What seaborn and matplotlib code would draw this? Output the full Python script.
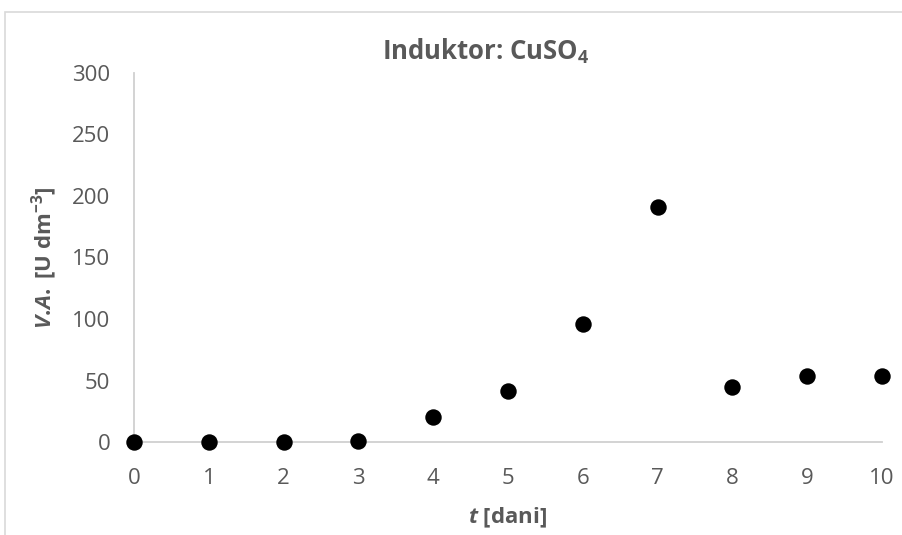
import pandas as pd
import matplotlib.pyplot as plt
import seaborn as sns
from matplotlib.patches import Rectangle

days = [0, 1, 2, 3, 4, 5, 6, 7, 8, 9, 10]
activity = [0, 0, 0, 0.5, 20, 41.5, 96, 191, 45, 54, 54]
y_ticks = [0, 50, 100, 150, 200, 250, 300]
x_ticks = [0, 1, 2, 3, 4, 5, 6, 7, 8, 9, 10]

df = pd.DataFrame({'t': days, 'VA': activity})

sns.set_style('white')
plt.rcParams['font.family'] = ['Open Sans', 'DejaVu Sans']
plt.rcParams['mathtext.fontset'] = 'custom'
plt.rcParams['mathtext.rm'] = 'Open Sans:bold'
plt.rcParams['mathtext.it'] = 'Open Sans:bold:italic'
plt.rcParams['mathtext.bf'] = 'Open Sans:bold'

gray = '#595959'
fig = plt.figure(figsize=(9.02, 5.35), dpi=100)
ax = fig.add_axes([0.1486, 0.1738, 0.8292, 0.6898])

sns.scatterplot(df, x='t', y='VA', ax=ax, color='black', s=140, edgecolor='black', linewidth=0, zorder=3, clip_on=False)

ax.set_xlim(0, 10)
ax.set_ylim(0, 300)
ax.set_xticks(x_ticks)
ax.set_yticks(y_ticks)
ax.tick_params(axis='both', length=0, labelsize=16, labelcolor=gray)
ax.tick_params(axis='x', pad=19)
ax.tick_params(axis='y', pad=17)

for side in ['top', 'right']:
    ax.spines[side].set_visible(False)
for side in ['left', 'bottom']:
    ax.spines[side].set_color('#d0d0d0')
    ax.spines[side].set_linewidth(1.3)

# title sits a bit left of the plot centre, as in the spreadsheet chart
ax.set_title('Induktor: CuSO$_4$', fontsize=18.5, fontweight='bold', color=gray, pad=10, x=0.47)
ax.set_xlabel(r'$t$ [dani]', fontsize=16, fontweight='bold', color=gray, labelpad=12)
ax.set_ylabel(r'$\mathit{V.\!A.}$ [U dm$^{-3}$]', fontsize=16, fontweight='bold', color=gray, labelpad=9)

# light chart-area border like the spreadsheet frame
fig.patches.append(Rectangle((5 / 902, -0.1), 1.1, 1.1 - 12 / 535, transform=fig.transFigure,
                             fill=False, edgecolor='#d9d9d9', linewidth=1.2))

fig.savefig('out.png', dpi=100)
